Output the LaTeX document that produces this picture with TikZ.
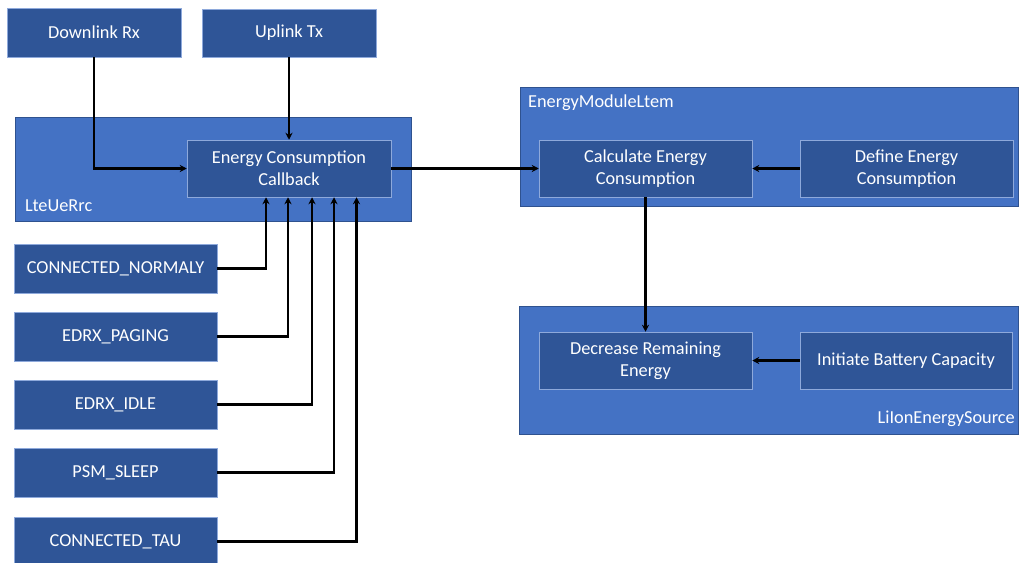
\documentclass[tikz,border=0pt]{standalone}
\usepackage{fontspec}
\setmainfont{Carlito}
\usetikzlibrary{arrows.meta}
\definecolor{boxfill}{HTML}{2F5597}
\definecolor{boxedge}{HTML}{8EA9DB}
\definecolor{groupfill}{HTML}{4472C4}
\definecolor{groupedge}{HTML}{2F528F}
\tikzset{
  group/.style={draw=groupedge, line width=0.8pt, fill=groupfill, inner sep=0pt},
  block/.style={draw=boxedge, line width=0.5pt, fill=boxfill, text=white, inner sep=0pt,
    align=center, font=\fontsize{18.3}{22}\selectfont},
  grouplabel/.style={text=white, inner sep=0pt, font=\fontsize{18.3}{22}\selectfont},
  flow/.style={line width=2.2pt, -{Stealth[length=7pt,width=7pt]}}
}
\begin{document}
\begin{tikzpicture}[x=1pt,y=-1pt]
\useasboundingbox (0,0) rectangle (1019,562);

% containers
\node[group, minimum width=396, minimum height=104] (lte) at (213,169) {};
\node[group, minimum width=498, minimum height=119] (em) at (769,146.5) {};
\node[group, minimum width=499, minimum height=128] (li) at (768.5,370) {};
\node[grouplabel, anchor=west] (ltelbl) at (25,206) {LteUeRrc};
\node[grouplabel, anchor=west] (emlbl) at (528,103) {EnergyModuleLtem};
\node[grouplabel, anchor=east] (lilbl) at (1015,419) {LiIonEnergySource};

% inputs on top
\node[block, minimum width=174, minimum height=49] (dl) at (94,32.5) {Downlink Rx};
\node[block, minimum width=174, minimum height=48] (ul) at (289,33) {Uplink Tx};

% callback
\node[block, minimum width=204, minimum height=57] (cb) at (289,168.5) {Energy Consumption\\Callback};

% UE states
\node[block, minimum width=203, minimum height=49] (s1) at (115.5,268.5) {CONNECTED\_NORMALY};
\node[block, minimum width=203, minimum height=49] (s2) at (115.5,336.5) {EDRX\_PAGING};
\node[block, minimum width=203, minimum height=49] (s3) at (115.5,404.5) {EDRX\_IDLE};
\node[block, minimum width=203, minimum height=49] (s4) at (115.5,472.5) {PSM\_SLEEP};
\node[block, minimum width=203, minimum height=49] (s5) at (115.5,541.5) {CONNECTED\_TAU};

% energy model
\node[block, minimum width=213, minimum height=57] (calc) at (645.5,168.5) {Calculate Energy\\Consumption};
\node[block, minimum width=213, minimum height=57] (def) at (906.5,168.5) {Define Energy\\Consumption};
\node[block, minimum width=213, minimum height=57] (dec) at (645.5,360.5) {Decrease Remaining\\Energy};
\node[block, minimum width=212, minimum height=57] (init) at (906,360.5) {Initiate Battery Capacity};

% connectors
\draw[flow] (dl.south) |- (cb.west);
\draw[flow] (ul.south) -- (cb.north);
\draw[flow] (s1.east) -| ([xshift=-23pt]cb.south);
\draw[flow] (s2.east) -| ([xshift=-1pt]cb.south);
\draw[flow] (s3.east) -| ([xshift=23pt]cb.south);
\draw[flow] (s4.east) -| ([xshift=45pt]cb.south);
\draw[flow] (s5.east) -| ([xshift=67.5pt]cb.south);
\draw[flow] (cb.east) -- (calc.west);
\draw[flow] (def.west) -- (calc.east);
\draw[flow] (calc.south) -- (dec.north);
\draw[flow] (init.west) -- (dec.east);
\end{tikzpicture}
\end{document}
